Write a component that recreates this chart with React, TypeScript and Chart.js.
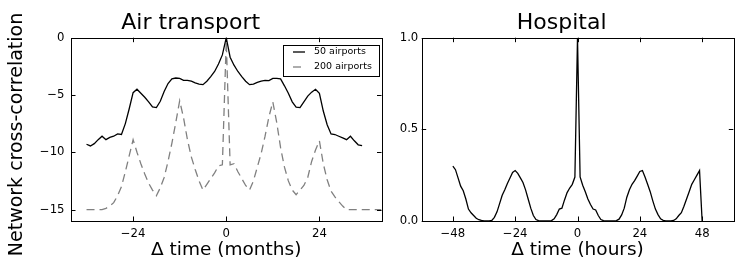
import React, { useEffect, useRef } from "react";
import { Chart, registerables } from "chart.js";

Chart.register(...registerables);

// ---------- data ----------
const airMonths50 = [
  -36, -35, -34, -33, -32, -31, -30, -29, -28, -27, -26, -25, -24, -23, -22, -21, -20, -19,
  -18, -17, -16, -15, -14, -13, -12, -11, -10, -9, -8, -7, -6, -5, -4, -3, -2, -1, 0,
  1, 2, 3, 4, 5, 6, 7, 8, 9, 10, 11, 12, 13, 14, 15, 16, 17, 18, 19, 20, 21, 22, 23, 24,
  25, 26, 27, 28, 29, 30, 31, 32, 33, 34, 35,
];
const air50 = [
  -9.3, -9.45, -9.25, -8.9, -8.6, -8.9, -8.7, -8.6, -8.4, -8.45, -7.5, -6.2, -4.8, -4.5, -4.85, -5.2, -5.6, -6.05,
  -6.1, -5.55, -4.7, -4.0, -3.6, -3.52, -3.55, -3.72, -3.72, -3.8, -3.95, -4.05, -4.1, -3.8, -3.4, -2.95, -2.3, -1.5, 0,
  -1.7, -2.4, -2.95, -3.4, -3.8, -4.1, -4.05, -3.9, -3.8, -3.73, -3.75, -3.55, -3.55, -3.6, -4.2, -4.85, -5.6, -6.07, -6.1, -5.6, -5.1, -4.75, -4.5, -4.85,
  -6.4, -7.6, -8.4, -8.45, -8.6, -8.75, -8.9, -8.6, -9.0, -9.35, -9.42,
];

const airMonths200 = [
  -36, -35, -34, -33, -32, -31, -30, -29, -28, -27, -26, -25, -24, -23, -22, -21, -20, -19,
  -18, -17, -16, -15, -14, -13, -12, -11, -10, -9, -8, -7, -6, -5, -4, -3, -2, -1, 0,
  1, 2, 3, 4, 5, 6, 7, 8, 9, 10, 11, 12, 13, 14, 15, 16, 17, 18, 19, 20, 21, 22, 23, 24,
  25, 26, 27, 28, 29, 30, 31, 32, 33, 34, 35, 36, 37, 38, 39, 40,
];
const air200 = [
  -15, -15, -15, -15, -15, -14.9, -14.7, -14.4, -13.8, -13.0, -11.7, -10.3, -8.9, -10.0, -11.0, -11.9, -12.7, -13.3,
  -13.8, -13.1, -12.2, -10.8, -9.2, -7.4, -5.5, -7.0, -8.9, -10.4, -11.5, -12.5, -13.3, -12.8, -12.3, -11.8, -11.2, -11.1, -0.3,
  -11.1, -11.0, -11.7, -12.3, -12.9, -13.3, -12.5, -11.3, -10.1, -8.6, -6.9, -5.6, -7.4, -9.6, -11.3, -12.5, -13.3, -13.7, -13.3, -12.9, -12.2, -10.8, -9.8, -9.0,
  -11.0, -12.4, -13.4, -13.9, -14.3, -14.7, -15, -15, -15, -15, -15, -15, -15, -15, -15, -15,
];

const hospHours = [
  -48, -47, -46, -45, -44, -43, -42, -41, -40, -39, -38, -37, -36, -35, -34, -33, -32, -31, -30, -29,
  -28, -27, -26, -25, -24, -23, -22, -21, -20, -19, -18, -17, -16, -15, -14, -13, -12, -11, -10, -9,
  -8, -7, -6, -5, -4, -3, -2, -1, 0, 1, 2, 3, 4, 5, 6, 7, 8, 9, 10, 11, 12, 13, 14, 15, 16, 17, 18,
  19, 20, 21, 22, 23, 24, 25, 26, 27, 28, 29, 30, 31, 32, 33, 34, 35, 36, 37, 38, 39, 40, 41, 42, 43,
  44, 45, 46, 47, 48,
];
const hospital = [
  0.3, 0.28, 0.235, 0.19, 0.165, 0.12, 0.065, 0.045, 0.03, 0.015, 0.007, 0.003, 0.001, 0, 0, 0.003, 0.02, 0.05, 0.095, 0.14,
  0.17, 0.205, 0.235, 0.265, 0.275, 0.26, 0.235, 0.21, 0.17, 0.12, 0.07, 0.03, 0.008, 0.002, 0, 0, 0, 0, 0.002, 0.012,
  0.035, 0.065, 0.07, 0.115, 0.155, 0.18, 0.2, 0.24, 1.0, 0.24, 0.195, 0.16, 0.12, 0.09, 0.065, 0.06, 0.03, 0.008, 0.002, 0, 0, 0, 0, 0.002, 0.01, 0.033, 0.07,
  0.13, 0.17, 0.2, 0.22, 0.245, 0.27, 0.275, 0.24, 0.2, 0.16, 0.11, 0.065, 0.035, 0.012, 0.004, 0.001, 0, 0, 0.003, 0.012, 0.03, 0.045, 0.08, 0.12, 0.16,
  0.2, 0.225, 0.25, 0.275, 0,
];

const airXTicks = [-24, 0, 24];
const airXTickLabels = ["\u221224", "0", "24"];
const airYTicks = [-15, -10, -5, 0];
const airYTickLabels = ["\u221215", "\u221210", "\u22125", "0"];
const hospXTicks = [-48, -24, 0, 24, 48];
const hospXTickLabels = ["\u221248", "\u221224", "0", "24", "48"];
const hospYTicks = [0, 0.5, 1.0];
const hospYTickLabels = ["0.0", "0.5", "1.0"];

const seriesLabels = ["50 airports", "200 airports"];
const yAxisTitle = "Network cross-correlation";

const FONT = "'DejaVu Sans', 'Liberation Sans', sans-serif";

// ---------- plugins ----------
const framePlugin = {
  id: "frameTicks",
  afterDatasetsDraw(chart: any) {
    const { ctx, chartArea: a, scales } = chart;
    const r = (v: number) => Math.round(v) + 0.5;
    ctx.save();
    ctx.strokeStyle = "#000";
    ctx.lineWidth = 1;
    const L = 4.5;
    ctx.beginPath();
    scales.x.ticks.forEach((t: any) => {
      const px = r(scales.x.getPixelForValue(t.value));
      ctx.moveTo(px, a.bottom);
      ctx.lineTo(px, a.bottom - L);
      ctx.moveTo(px, a.top);
      ctx.lineTo(px, a.top + L);
    });
    scales.y.ticks.forEach((t: any) => {
      const py = r(scales.y.getPixelForValue(t.value));
      ctx.moveTo(a.left, py);
      ctx.lineTo(a.left + L, py);
      ctx.moveTo(a.right, py);
      ctx.lineTo(a.right - L, py);
    });
    ctx.stroke();
    ctx.strokeRect(r(a.left), r(a.top), Math.round(a.right - a.left), Math.round(a.bottom - a.top));
    ctx.restore();
  },
};

const boxLegendPlugin = {
  id: "boxLegend",
  afterDatasetsDraw(chart: any, _args: any, opts: any) {
    if (!opts || !opts.display) return;
    const { ctx } = chart;
    ctx.save();
    ctx.fillStyle = "#fff";
    ctx.fillRect(opts.left, opts.top, opts.right - opts.left, opts.bottom - opts.top);
    ctx.strokeStyle = "#000";
    ctx.lineWidth = 1;
    ctx.strokeRect(opts.left + 0.5, opts.top + 0.5, opts.right - opts.left, opts.bottom - opts.top);
    chart.data.datasets.forEach((ds: any, i: number) => {
      const y = opts.rows[i];
      ctx.beginPath();
      ctx.strokeStyle = ds.borderColor;
      ctx.lineWidth = ds.borderWidth;
      ctx.setLineDash(ds.borderDash || []);
      ctx.moveTo(opts.lineX0, y);
      ctx.lineTo(opts.lineX1, y);
      ctx.stroke();
      ctx.setLineDash([]);
      ctx.fillStyle = "#000";
      ctx.font = `${opts.fontSize}px ${FONT}`;
      ctx.textBaseline = "middle";
      ctx.textAlign = "left";
      ctx.fillText(ds.label, opts.textX, y);
    });
    ctx.restore();
  },
};

const sideTitlePlugin = {
  id: "sideTitle",
  afterDraw(chart: any, _args: any, opts: any) {
    if (!opts || !opts.display) return;
    const { ctx } = chart;
    ctx.save();
    ctx.translate(opts.x, opts.y);
    ctx.rotate(-Math.PI / 2);
    ctx.fillStyle = "#000";
    ctx.font = `${opts.fontSize}px ${FONT}`;
    ctx.textAlign = "center";
    ctx.textBaseline = "middle";
    ctx.fillText(opts.text, 0, 0);
    ctx.restore();
  },
};

function makeConfig(p: any) {
  return {
    type: "line",
    data: { datasets: p.datasets },
    options: {
      animation: false,
      responsive: false,
      maintainAspectRatio: false,
      devicePixelRatio: 1,
      layout: { padding: { left: 0, right: p.padRight, top: 0, bottom: 0 } },
      elements: { point: { radius: 0 }, line: { tension: 0 } },
      plugins: {
        legend: { display: false },
        tooltip: { enabled: false },
        title: {
          display: true,
          text: p.title,
          color: "#000",
          font: { family: FONT, size: 22, weight: "normal", lineHeight: 1 },
          padding: { top: 12.4, bottom: 3.3 },
        },
        boxLegend: p.legend || { display: false },
        sideTitle: p.sideTitle || { display: false },
      },
      scales: {
        x: {
          type: "linear",
          min: p.xMin,
          max: p.xMax,
          grid: { display: false, drawTicks: false },
          border: { display: false },
          afterFit: (s: any) => {
            s.height = 59;
          },
          afterBuildTicks: (s: any) => {
            s.ticks = p.xTicks.map((v: number) => ({ value: v }));
          },
          ticks: {
            color: "#000",
            padding: 6.3,
            maxRotation: 0,
            autoSkip: false,
            font: { family: FONT, size: 11.7 },
            callback: (_v: any, i: number) => p.xTickLabels[i],
          },
          title: {
            display: true,
            text: p.xTitle,
            color: "#000",
            font: { family: FONT, size: 18.5, lineHeight: 1 },
            padding: { top: 0, bottom: 20.25 },
          },
        },
        y: {
          type: "linear",
          min: p.yMin,
          max: p.yMax,
          grid: { display: false, drawTicks: false },
          border: { display: false },
          afterFit: (s: any) => {
            s.width = p.yWidth;
          },
          afterBuildTicks: (s: any) => {
            s.ticks = p.yTicks.map((v: number) => ({ value: v }));
          },
          ticks: {
            color: "#000",
            padding: p.yTickPad,
            autoSkip: false,
            font: { family: FONT, size: 11.7 },
            callback: (_v: any, i: number) => p.yTickLabels[i],
          },
        },
      },
    },
    plugins: [framePlugin, boxLegendPlugin, sideTitlePlugin],
  };
}

export default function App() {
  const leftRef = useRef<HTMLCanvasElement | null>(null);
  const rightRef = useRef<HTMLCanvasElement | null>(null);

  useEffect(() => {
    const left = new Chart(
      leftRef.current as HTMLCanvasElement,
      makeConfig({
        title: "Air transport",
        xTitle: "\u0394 time (months)",
        xMin: -40,
        xMax: 40,
        yMin: -16,
        yMax: 0,
        xTicks: airXTicks,
        xTickLabels: airXTickLabels,
        yTicks: airYTicks,
        yTickLabels: airYTickLabels,
        yWidth: 71,
        yTickPad: 6.5,
        padRight: 8.5,
        sideTitle: { display: true, text: yAxisTitle, x: 16.9, y: 134.5, fontSize: 19 },
        legend: {
          display: true,
          left: 283,
          top: 45,
          right: 379,
          bottom: 76,
          rows: [52, 67],
          lineX0: 293,
          lineX1: 305,
          textX: 314,
          fontSize: 9.5,
        },
        datasets: [
          {
            label: seriesLabels[0],
            data: airMonths50.map((m, i) => ({ x: m, y: air50[i] })),
            borderColor: "#000000",
            borderWidth: 1.3,
            fill: false,
          },
          {
            label: seriesLabels[1],
            data: airMonths200.map((m, i) => ({ x: m, y: air200[i] })),
            borderColor: "#808080",
            borderWidth: 1.3,
            borderDash: [8, 5],
            fill: false,
          },
        ],
      }) as any
    );
    const right = new Chart(
      rightRef.current as HTMLCanvasElement,
      makeConfig({
        title: "Hospital",
        xTitle: "\u0394 time (hours)",
        xMin: -60,
        xMax: 60,
        yMin: 0,
        yMax: 1,
        xTicks: hospXTicks,
        xTickLabels: hospXTickLabels,
        yTicks: hospYTicks,
        yTickLabels: hospYTickLabels,
        yWidth: 31.7,
        yTickPad: 3.4,
        padRight: 13.7,
        datasets: [
          {
            label: "Hospital",
            data: hospHours.map((h, i) => ({ x: h, y: hospital[i] })),
            borderColor: "#000000",
            borderWidth: 1.3,
            fill: false,
          },
        ],
      }) as any
    );
    return () => {
      left.destroy();
      right.destroy();
    };
  }, []);

  return (
    <div style={{ position: "fixed", left: 0, top: 0, width: 747, height: 280, background: "#fff" }}>
      <canvas
        ref={leftRef}
        width={390}
        height={280}
        style={{ position: "absolute", left: 0, top: 0, width: 390, height: 280 }}
      />
      <canvas
        ref={rightRef}
        width={357}
        height={280}
        style={{ position: "absolute", left: 390, top: 0, width: 357, height: 280 }}
      />
    </div>
  );
}
